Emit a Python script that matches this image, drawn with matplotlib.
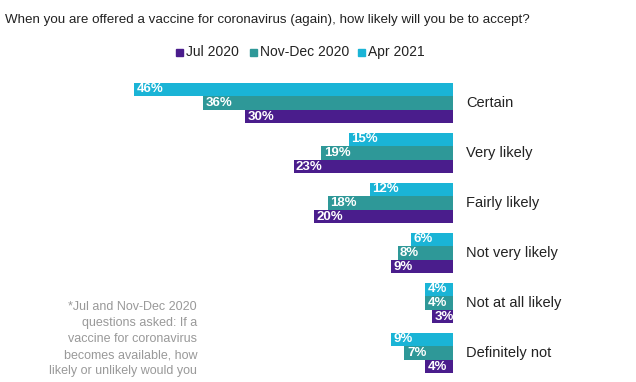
import matplotlib
matplotlib.use("Agg")
import matplotlib.pyplot as plt
from matplotlib.patches import Rectangle

categories = ["Certain", "Very likely", "Fairly likely", "Not very likely",
              "Not at all likely", "Definitely not"]
series = ["Apr 2021", "Nov-Dec 2020", "Jul 2020"]
apr_2021 = [46, 15, 12, 6, 4, 9]
nov_dec_2020 = [36, 19, 18, 8, 4, 7]
jul_2020 = [30, 23, 20, 9, 3, 4]

title = "When you are offered a vaccine for coronavirus (again), how likely will you be to accept?"
footnote = ("*Jul and Nov-Dec 2020\nquestions asked: If a\nvaccine for coronavirus\n"
            "becomes available, how\nlikely or unlikely would you")

colors = ["#1ab4d6", "#2e9898", "#4a1d8c"]
W, H = 636, 382

plt.rcParams["font.family"] = ["Liberation Sans", "DejaVu Sans"]
fig = plt.figure(figsize=(W / 100, H / 100), dpi=100)

# bars grow leftwards from a baseline at x=453px (layout is mirrored like the source)
ax = fig.add_axes([134 / W, 4 / H, (453 - 134) / W, 300 / H])
ax.set_xlim(46, 0)
ax.set_ylim(5.5, -0.5)
ax.axis("off")

bh = 0.27
offsets = [-bh, 0, bh]
for vals, off, col in zip([apr_2021, nov_dec_2020, jul_2020], offsets, colors):
    ys = [i + off for i in range(len(categories))]
    ax.barh(ys, vals, height=bh, color=col, edgecolor="none")
    for y, v in zip(ys, vals):
        ax.text(v - 0.35, y, f"{v}%", ha="left", va="center", color="white",
                fontsize=9.5, fontweight="bold")

for i, c in enumerate(categories):
    ax.text(-1.9, i, c, ha="left", va="center", fontsize=10.5, color="#222222")

fig.text(5 / W, 1 - 20 / H, title, ha="left", va="center", fontsize=9.6,
         color="#222222")

# legend row
leg_x = [176, 250, 358]
for x, name, col in zip(leg_x, reversed(series), reversed(colors)):
    fig.patches.append(Rectangle((x / W, 1 - 56 / H), 7 / W, 7 / H,
                                 transform=fig.transFigure, color=col))
    fig.text((x + 10) / W, 1 - 52 / H, name, ha="left", va="center",
             fontsize=10, color="#222222")

fig.text(197 / W, 1 - 339 / H, footnote, ha="right", va="center", fontsize=9,
         multialignment="right", color="#999999", linespacing=1.45)

fig.savefig("out.png", dpi=100)
